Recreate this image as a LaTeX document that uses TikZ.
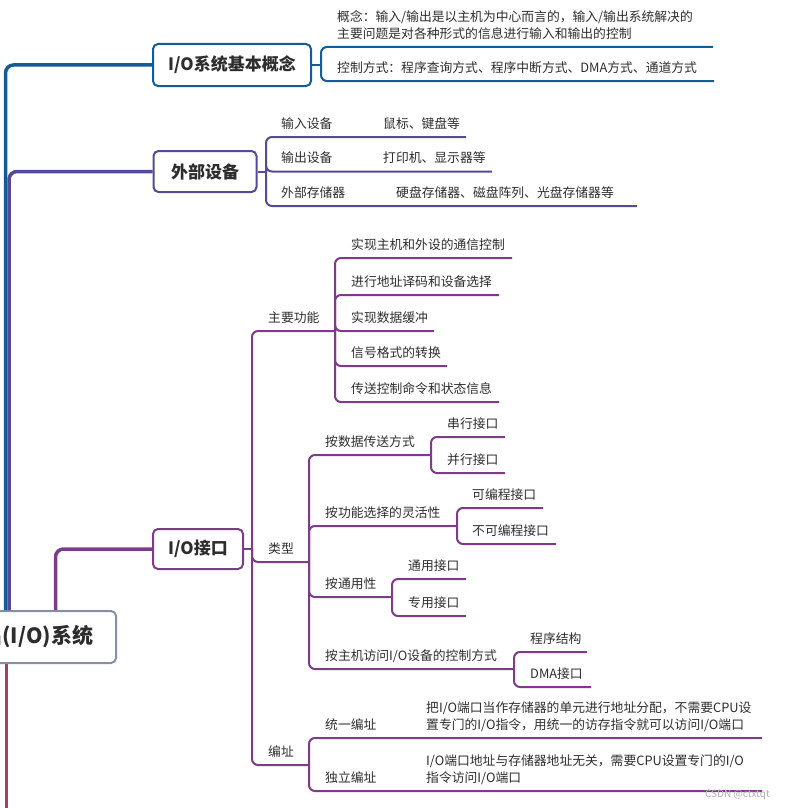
\documentclass[tikz,border=0pt]{standalone}
\usepackage{fontspec}
\setmainfont{Noto Sans CJK SC}
\usepackage{xcolor}
\definecolor{blueline}{RGB}{18,92,152}
\definecolor{violetline}{RGB}{84,74,150}
\definecolor{plumline}{RGB}{124,60,136}
\definecolor{roseline}{RGB}{166,60,106}
\definecolor{rootline}{RGB}{132,144,164}
\definecolor{txt}{RGB}{45,45,45}

\begin{document}
\begin{tikzpicture}[x=1pt,y=-1pt,
  topic/.style={draw, line width=2pt, rounded corners=5pt, fill=white,
    font=\fontsize{17}{20}\selectfont\bfseries, text=txt, inner sep=0pt},
  item/.style={anchor=base west, inner sep=0pt,
    font=\fontsize{12.8}{17}\selectfont, text=txt, align=left},
  trunk/.style={line width=3.5pt, rounded corners=8pt},
  link/.style={line width=2pt, rounded corners=6pt}]
%\draw[help lines] (0,0) grid (785,808);
\useasboundingbox (0,0) rectangle (785,808);

% main topics
\node[topic, draw=rootline, font=\fontsize{21}{24}\selectfont\bfseries,
  anchor=east, minimum height=52pt, inner xsep=23pt] (root) at (117,637) {输入/输出(I/O)系统};
\node[topic, draw=blueline, minimum width=158pt, minimum height=42pt] (basic) at (232,65) {I/O系统基本概念};
\node[topic, draw=violetline, minimum width=103pt, minimum height=41pt] (device) at (205,171.5) {外部设备};
\node[topic, draw=plumline, minimum width=90pt, minimum height=40pt] (port) at (198,549) {I/O接口};

\draw[trunk, blueline] (root.north -| 5.5,0) |- (basic.west);
\draw[trunk, violetline] (root.north -| 9,0) |- (device.west);
\draw[trunk, plumline] (root.north -| 55.5,0) |- (port.west);
\draw[trunk, roseline] (root.south -| 6.5,0) -- (6.5,840) coordinate (more);

% I/O系统基本概念
\coordinate (jb) at (321,65);
\draw[link, blueline] (basic.east) -- (jb);
\draw[link, blueline] (jb) |- (713,47) coordinate (conceptend);
\draw[link, blueline] (jb) |- (714,81) coordinate (ctrlend);
\node[item] (concept) at (337,38) {概念：输入/输出是以主机为中心而言的，输入/输出系统解决的\\主要问题是对各种形式的信息进行输入和输出的控制};
\node[item] (ctrl) at (337,72) {控制方式：程序查询方式、程序中断方式、DMA方式、通道方式};

% 外部设备
\coordinate (jd) at (266,171.5);
\draw[link, violetline] (device.east) -- (jd);
\draw[link, violetline] (jd) |- (466,137) coordinate (inend);
\draw[link, violetline] (jd) |- (492,171.5) coordinate (outend);
\draw[link, violetline] (jd) |- (637,206) coordinate (storeend);
\node[item] (in) at (281,128) {输入设备};
\node[item] (in1) at (383,128) {鼠标、键盘等};
\node[item] (out) at (281,162.5) {输出设备};
\node[item] (out1) at (383,162.5) {打印机、显示器等};
\node[item] (store) at (281,197) {外部存储器};
\node[item] (store1) at (396,197) {硬盘存储器、磁盘阵列、光盘存储器等};

% I/O接口
\coordinate (jp) at (252,549);
\draw[link, plumline] (port.east) -- (jp);
\draw[link, plumline] (jp) |- (335,331) coordinate (jf);
\draw[link, plumline] (jp) |- (309,562) coordinate (jt);
\draw[link, plumline] (jp) |- (309,765) coordinate (ja);
\node[item] (func) at (268,322) {主要功能};
\node[item] (kind) at (268,553) {类型};
\node[item] (addr) at (268,756) {编址};

% 主要功能
\draw[link, plumline] (jf) |- (512,258) coordinate (f1end);
\draw[link, plumline] (jf) |- (499,295) coordinate (f2end);
\draw[link, plumline] (jf) |- (434,331) coordinate (f3end);
\draw[link, plumline] (jf) |- (447,366) coordinate (f4end);
\draw[link, plumline] (jf) |- (499,402) coordinate (f5end);
\node[item] (f1) at (351,249) {实现主机和外设的通信控制};
\node[item] (f2) at (351,286) {进行地址译码和设备选择};
\node[item] (f3) at (351,322) {实现数据缓冲};
\node[item] (f4) at (351,357) {信号格式的转换};
\node[item] (f5) at (351,393) {传送控制命令和状态信息};

% 类型
\draw[link, plumline] (jt) |- (431,455) coordinate (j1);
\draw[link, plumline] (jt) |- (457,526) coordinate (j2);
\draw[link, plumline] (jt) |- (392,597) coordinate (j3);
\draw[link, plumline] (jt) |- (514,669) coordinate (j4);
\node[item] (t1) at (325,446) {按数据传送方式};
\node[item] (t2) at (325,517) {按功能选择的灵活性};
\node[item] (t3) at (325,588) {按通用性};
\node[item] (t4) at (325,660) {按主机访问I/O设备的控制方式};

\draw[link, plumline] (j1) |- (505,437) coordinate (t11end);
\draw[link, plumline] (j1) |- (505,473) coordinate (t12end);
\node[item] (t11) at (447,428) {串行接口};
\node[item] (t12) at (447,464) {并行接口};

\draw[link, plumline] (j2) |- (543,508) coordinate (t21end);
\draw[link, plumline] (j2) |- (556,544) coordinate (t22end);
\node[item] (t21) at (472,499) {可编程接口};
\node[item] (t22) at (472,535) {不可编程接口};

\draw[link, plumline] (j3) |- (466,579) coordinate (t31end);
\draw[link, plumline] (j3) |- (466,616) coordinate (t32end);
\node[item] (t31) at (408,570) {通用接口};
\node[item] (t32) at (408,607) {专用接口};

\draw[link, plumline] (j4) |- (587,652) coordinate (t41end);
\draw[link, plumline] (j4) |- (591,687) coordinate (t42end);
\node[item] (t41) at (530,643) {程序结构};
\node[item] (t42) at (530,678) {DMA接口};

% 编址
\draw[link, plumline] (ja) |- (762,738) coordinate (a1end);
\draw[link, plumline] (ja) |- (762,791) coordinate (a2end);
\node[item] (a1) at (325,729) {统一编址};
\node[item] (a11) at (426,729) {把I/O端口当作存储器的单元进行地址分配，不需要CPU设\\置专门的I/O指令，用统一的访存指令就可以访问I/O端口};
\node[item] (a2) at (325,782) {独立编址};
\node[item] (a21) at (426,782) {I/O端口地址与存储器地址无关，需要CPU设置专门的I/O\\指令访问I/O端口};

\node[anchor=base east, inner sep=0pt, font=\fontsize{10}{12}\selectfont, text=black!30] (mark) at (770,797) {CSDN @ctxtqt};
\end{tikzpicture}
\end{document}
